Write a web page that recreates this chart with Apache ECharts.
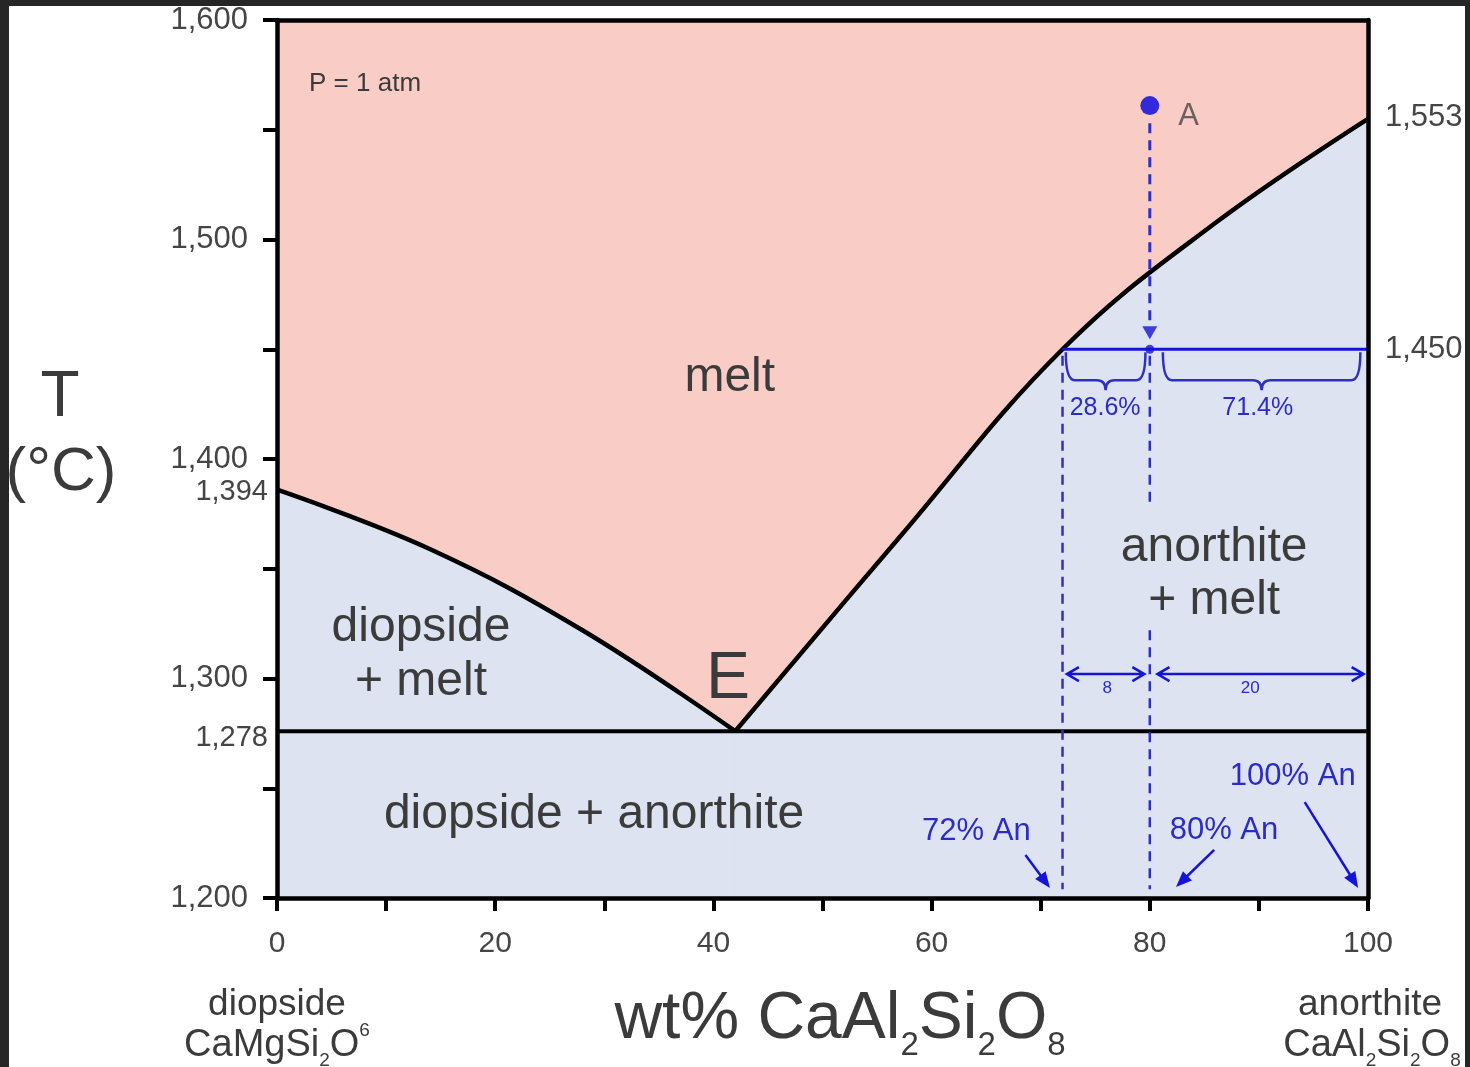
<!DOCTYPE html>
<html><head><meta charset="utf-8">
<script src="https://cdn.jsdelivr.net/npm/echarts@6/dist/echarts.min.js"></script>
<style>
html,body{margin:0;padding:0;background:#262626;width:1470px;height:1067px;overflow:hidden}
#chart{position:absolute;left:9px;top:6px;width:1456px;height:1061px;background:#fff}
</style></head><body><div id="chart"></div>
<script>
// ---------------- data ----------------
const xLabelValues = [0, 20, 40, 60, 80, 100];
const yLabelValues = [1200, 1300, 1400, 1500, 1600];
const extraLeftLabels = ['1,394', '1,278'];
const extraLeftAt = [1385, 1273];
const rightLabels = ['1,553', '1,450'];
const rightAt = [1555.5, 1450];

const diopsideLiquidus = [[0,1386],[14,1359],[28,1322],[42,1276]];
const anorthiteLiquidus = [[42,1276],[57,1364],[72,1450],[86,1507.5],[100,1555]];
const solidus = [[0,1276],[100,1276]];

const pointA = [[80,1561]];
const dropPath = [[80,1553],[80,1460]];
const dropArrowAt = [[80,1457.5]];
const tieLine = [[72,1450],[100,1450]];
const tieDot = [[80,1450]];
const bulkDashUpper = [[80,1447],[80,1378]];
const bulkDashLower = [[80,1322],[80,1204]];
const liquidDash = [[72,1447],[72,1204]];

const braceSpans = [[72.3,79.6,1450],[81.2,99.3,1450]];
const braceLabels = ['28.6%', '71.4%'];
const braceLabelAt = [[75.9,1423],[89.9,1423]];
const leverSpans = [[72.4,79.5,1302],[80.7,99.6,1302]];
const leverLabels = ['8', '20'];
const leverLabelAt = [[76.1,1295.5],[89.2,1295.5]];
const anLabels = ['72% An', '80% An', '100% An'];
const anLabelAt = [[64.1,1230.5],[86.8,1231],[93.1,1255.6]];
// arrows: [fromX, fromT, toX, toT]
const anArrows = [[68.6,1219.6,70.85,1204.6],[85.9,1221.9,82.4,1205],[94.2,1243.7,99.1,1204.6]];

const fieldLabels = ['melt', 'diopside\n+ melt', 'anorthite\n+ melt', 'diopside + anorthite', 'E', 'P = 1 atm'];
const fieldLabelAt = [[41.5,1437],[13.2,1311],[85.9,1347.4],[29.06,1237.8],[41.34,1299.3],[8.07,1570.8]];

// ---------------- styles ----------------
const FONT = '"Liberation Sans", Arial, Helvetica, sans-serif';
const PINK = '#F9CCC6', BLUE_BG = '#DDE3F1', INK = '#3b3b3b', AXIS_TXT = '#454545';
const BLUE = '#1414d8', BLUE_DASH = '#2f2fc2', BLUE_TXT = '#2b2bc6';
const fieldStyles = [{size:48},{size:48,lh:54},{size:48,lh:53},{size:48},{size:66},{size:26}];
const textGroups = [
  {texts: fieldLabels, at: fieldLabelAt, color: INK, sizeOf: i => fieldStyles[i].size, lhOf: i => fieldStyles[i].lh},
  {texts: braceLabels, at: braceLabelAt, color: BLUE_TXT, sizeOf: () => 25},
  {texts: leverLabels, at: leverLabelAt, color: BLUE_TXT, sizeOf: () => 17},
  {texts: anLabels, at: anLabelAt, color: BLUE_TXT, sizeOf: () => 31}
];
const textData = [];
textGroups.forEach((g, gi) => g.at.forEach((p, i) => textData.push([p[0], p[1], gi, i])));

const fmt = v => String(v).replace(/\B(?=(\d{3})+(?!\d))/g, ',');
const frameLine = {show: true, onZero: false, lineStyle: {color: '#000', width: 4.5}};

function lineSer(data, style, z) {
  return {type: 'line', data: data, symbol: 'none', silent: true, z: z || 4,
    lineStyle: style, animation: false};
}

const chart = echarts.init(document.getElementById('chart'));
const option = {
  animation: false,
  textStyle: {fontFamily: FONT},
  grid: {left: 268, right: 97, top: 14, bottom: 169, show: true, backgroundColor: PINK, borderWidth: 0, outerBoundsMode: 'none'},
  xAxis: [
    {type: 'value', position: 'bottom', min: 0, max: 100, interval: 10, z: 6,
     axisLine: frameLine,
     axisTick: {show: true, length: 13, lineStyle: {color: '#000', width: 4}},
     axisLabel: {show: true, margin: 31, fontSize: 30, color: AXIS_TXT, fontFamily: FONT, showMinLabel: true, showMaxLabel: true,
                 formatter: v => xLabelValues.includes(v) ? String(v) : ''},
     splitLine: {show: false}},
    {type: 'value', position: 'top', min: 0, max: 100, z: 6, axisLine: frameLine,
     axisTick: {show: false}, axisLabel: {show: false}, splitLine: {show: false}}
  ],
  yAxis: [
    {type: 'value', position: 'left', min: 1200, max: 1600, interval: 50, z: 6,
     axisLine: frameLine,
     axisTick: {show: true, length: 14, lineStyle: {color: '#000', width: 4}},
     axisLabel: {show: true, margin: 29, fontSize: 31, color: AXIS_TXT, fontFamily: FONT, showMinLabel: true, showMaxLabel: true,
                 formatter: v => yLabelValues.includes(v) ? fmt(v) : ''},
     splitLine: {show: false}},
    {type: 'value', position: 'left', min: 1200, max: 1600, z: 6,
     axisLine: {show: false}, axisTick: {show: false},
     axisLabel: {show: true, customValues: extraLeftAt, margin: 9, fontSize: 29, color: AXIS_TXT, fontFamily: FONT,
                 formatter: v => { const i = extraLeftAt.indexOf(v); return i >= 0 ? extraLeftLabels[i] : ''; }},
     splitLine: {show: false}},
    {type: 'value', position: 'right', min: 1200, max: 1600, z: 6,
     axisLine: frameLine, axisTick: {show: false},
     axisLabel: {show: true, customValues: rightAt, margin: 17, fontSize: 31, color: AXIS_TXT, fontFamily: FONT,
                 formatter: v => { const i = rightAt.indexOf(v); return i >= 0 ? rightLabels[i] : ''; }},
     splitLine: {show: false}}
  ],
  series: [
    {type: 'line', data: diopsideLiquidus, smooth: 0.4, symbol: 'none', silent: true, z: 2,
     lineStyle: {color: '#000', width: 4.5}, areaStyle: {color: BLUE_BG, opacity: 1, origin: 'start'}},
    {type: 'line', data: anorthiteLiquidus, smooth: 0.4, symbol: 'none', silent: true, z: 2,
     lineStyle: {color: '#000', width: 4.5}, areaStyle: {color: BLUE_BG, opacity: 1, origin: 'start'}},
    lineSer(solidus, {color: '#000', width: 4}, 3),
    lineSer(liquidDash, {color: BLUE_DASH, width: 2.5, type: [10, 7]}),
    lineSer(bulkDashUpper, {color: BLUE_DASH, width: 2.5, type: [10, 7]}),
    lineSer(bulkDashLower, {color: BLUE_DASH, width: 2.5, type: [10, 7]}),
    lineSer(dropPath, {color: BLUE_DASH, width: 3, type: [10, 7]}),
    lineSer(tieLine, {color: BLUE, width: 3}, 5),
    {type: 'scatter', data: dropArrowAt, symbol: 'triangle', symbolRotate: 180, symbolSize: [15, 13], silent: true, z: 6,
     itemStyle: {color: BLUE}},
    {type: 'scatter', data: tieDot, symbol: 'circle', symbolSize: 9, silent: true, z: 6, itemStyle: {color: BLUE}},
    {type: 'scatter', data: pointA, symbol: 'circle', symbolSize: 19, silent: true, z: 6, itemStyle: {color: '#0000dd'},
     label: {show: true, formatter: 'A', position: 'right', distance: 19, offset: [0, 11], fontSize: 31, color: AXIS_TXT, fontFamily: FONT}},
    {type: 'custom', data: anArrows, silent: true, z: 6, clip: false,
     renderItem: (params, api) => {
       const a = api.coord([api.value(0), api.value(1)]);
       const b = api.coord([api.value(2), api.value(3)]);
       const dx = b[0] - a[0], dy = b[1] - a[1], len = Math.hypot(dx, dy);
       const ux = dx / len, uy = dy / len, nx = -uy, ny = ux;
       const L = 16, W = 6.5;
       const bx = b[0] - ux * L, by = b[1] - uy * L;
       return {type: 'group', children: [
         {type: 'line', shape: {x1: a[0], y1: a[1], x2: bx + ux * 2, y2: by + uy * 2}, style: {stroke: BLUE, lineWidth: 2.5}},
         {type: 'polygon', shape: {points: [[b[0], b[1]], [bx + nx * W, by + ny * W], [bx - nx * W, by - ny * W]]}, style: {fill: BLUE}}
       ]};
     }},
    {type: 'custom', data: braceSpans, silent: true, z: 6, clip: false,
     renderItem: (params, api) => {
       const a = api.coord([api.value(0), api.value(2)]);
       const b = api.coord([api.value(1), api.value(2)]);
       const y0 = a[1] + 3, y1 = a[1] + 31, y2 = a[1] + 41, r = 9, xm = (a[0] + b[0]) / 2;
       const d = `M${a[0]},${y0} Q${a[0]},${y1} ${a[0]+r},${y1} L${xm-r},${y1} Q${xm},${y1} ${xm},${y2} ` +
                 `Q${xm},${y1} ${xm+r},${y1} L${b[0]-r},${y1} Q${b[0]},${y1} ${b[0]},${y0}`;
       return {type: 'path', shape: {pathData: d}, style: {stroke: BLUE_DASH, fill: null, lineWidth: 2.5}};
     }},
    {type: 'custom', data: leverSpans, silent: true, z: 6, clip: false,
     renderItem: (params, api) => {
       const a = api.coord([api.value(0), api.value(2)]);
       const b = api.coord([api.value(1), api.value(2)]);
       const h = 12, w = 7;
       const d = `M${a[0]},${a[1]} L${b[0]},${b[1]} M${a[0]+h},${a[1]-w} L${a[0]},${a[1]} L${a[0]+h},${a[1]+w} ` +
                 `M${b[0]-h},${b[1]-w} L${b[0]},${b[1]} L${b[0]-h},${b[1]+w}`;
       return {type: 'path', shape: {pathData: d}, style: {stroke: BLUE, fill: null, lineWidth: 2.5}};
     }},
    {type: 'custom', data: textData, silent: true, z: 7, clip: false,
     renderItem: (params, api) => {
       const g = textGroups[api.value(2)], i = api.value(3);
       const p = api.coord([api.value(0), api.value(1)]);
       const size = g.sizeOf(i);
       const lh = g.lhOf ? g.lhOf(i) : undefined;
       return {type: 'text', x: p[0], y: p[1], style: {text: g.texts[i], fill: g.color, fontSize: size, fontFamily: FONT,
               align: 'center', verticalAlign: 'middle', lineHeight: lh || Math.round(size * 1.15)}};
     }}
  ]
};
chart.setOption(option);

// ---------- outside texts (titles / end-member names) ----------
function chemRich(size, color) {
  const s = Math.round(size * 0.5);
  const drop = 0.57 * size - 0.35 * s;
  const LH = Math.round(2 * drop + s);
  const base = {fill: color, fontFamily: FONT, lineHeight: LH};
  return {
    LH: LH,
    rich: {
      m: Object.assign({fontSize: size}, base),
      b: Object.assign({fontSize: s, verticalAlign: 'bottom'}, base),
      p: Object.assign({fontSize: s, verticalAlign: 'top'}, base)
    }
  };
}
function txt(x, y, text, size, color, rich, lh) {
  const style = {text: text, fill: color, fontSize: size, fontFamily: FONT, align: 'center', verticalAlign: 'middle'};
  if (rich) { style.rich = rich; }
  if (lh) { style.lineHeight = lh; }
  return {type: 'text', x: x, y: y, silent: true, style: style};
}
const x0 = chart.convertToPixel({xAxisIndex: 0}, 0);
const x100 = chart.convertToPixel({xAxisIndex: 0}, 100);
const titleRich = chemRich(66, INK);
const endRich = chemRich(38, INK);
chart.setOption({
  graphic: [
    txt(51, 392, 'T', 64, INK),
    txt(52, 467, '(°C)', 62, INK),
    txt(831, 1014, '{m|wt% CaAl}{b|2}{m|Si}{b|2}{m|O}{b|8}', 66, INK, titleRich.rich, titleRich.LH),
    txt(x0, 999, 'diopside', 37, INK),
    txt(x0, 1040, '{m|CaMgSi}{b|2}{m|O}{p|6}', 38, INK, endRich.rich, endRich.LH),
    txt(x100 + 2, 999, 'anorthite', 37, INK),
    txt(x100 + 4, 1040, '{m|CaAl}{b|2}{m|Si}{b|2}{m|O}{b|8}', 38, INK, endRich.rich, endRich.LH)
  ]
});
</script>
</body></html>
